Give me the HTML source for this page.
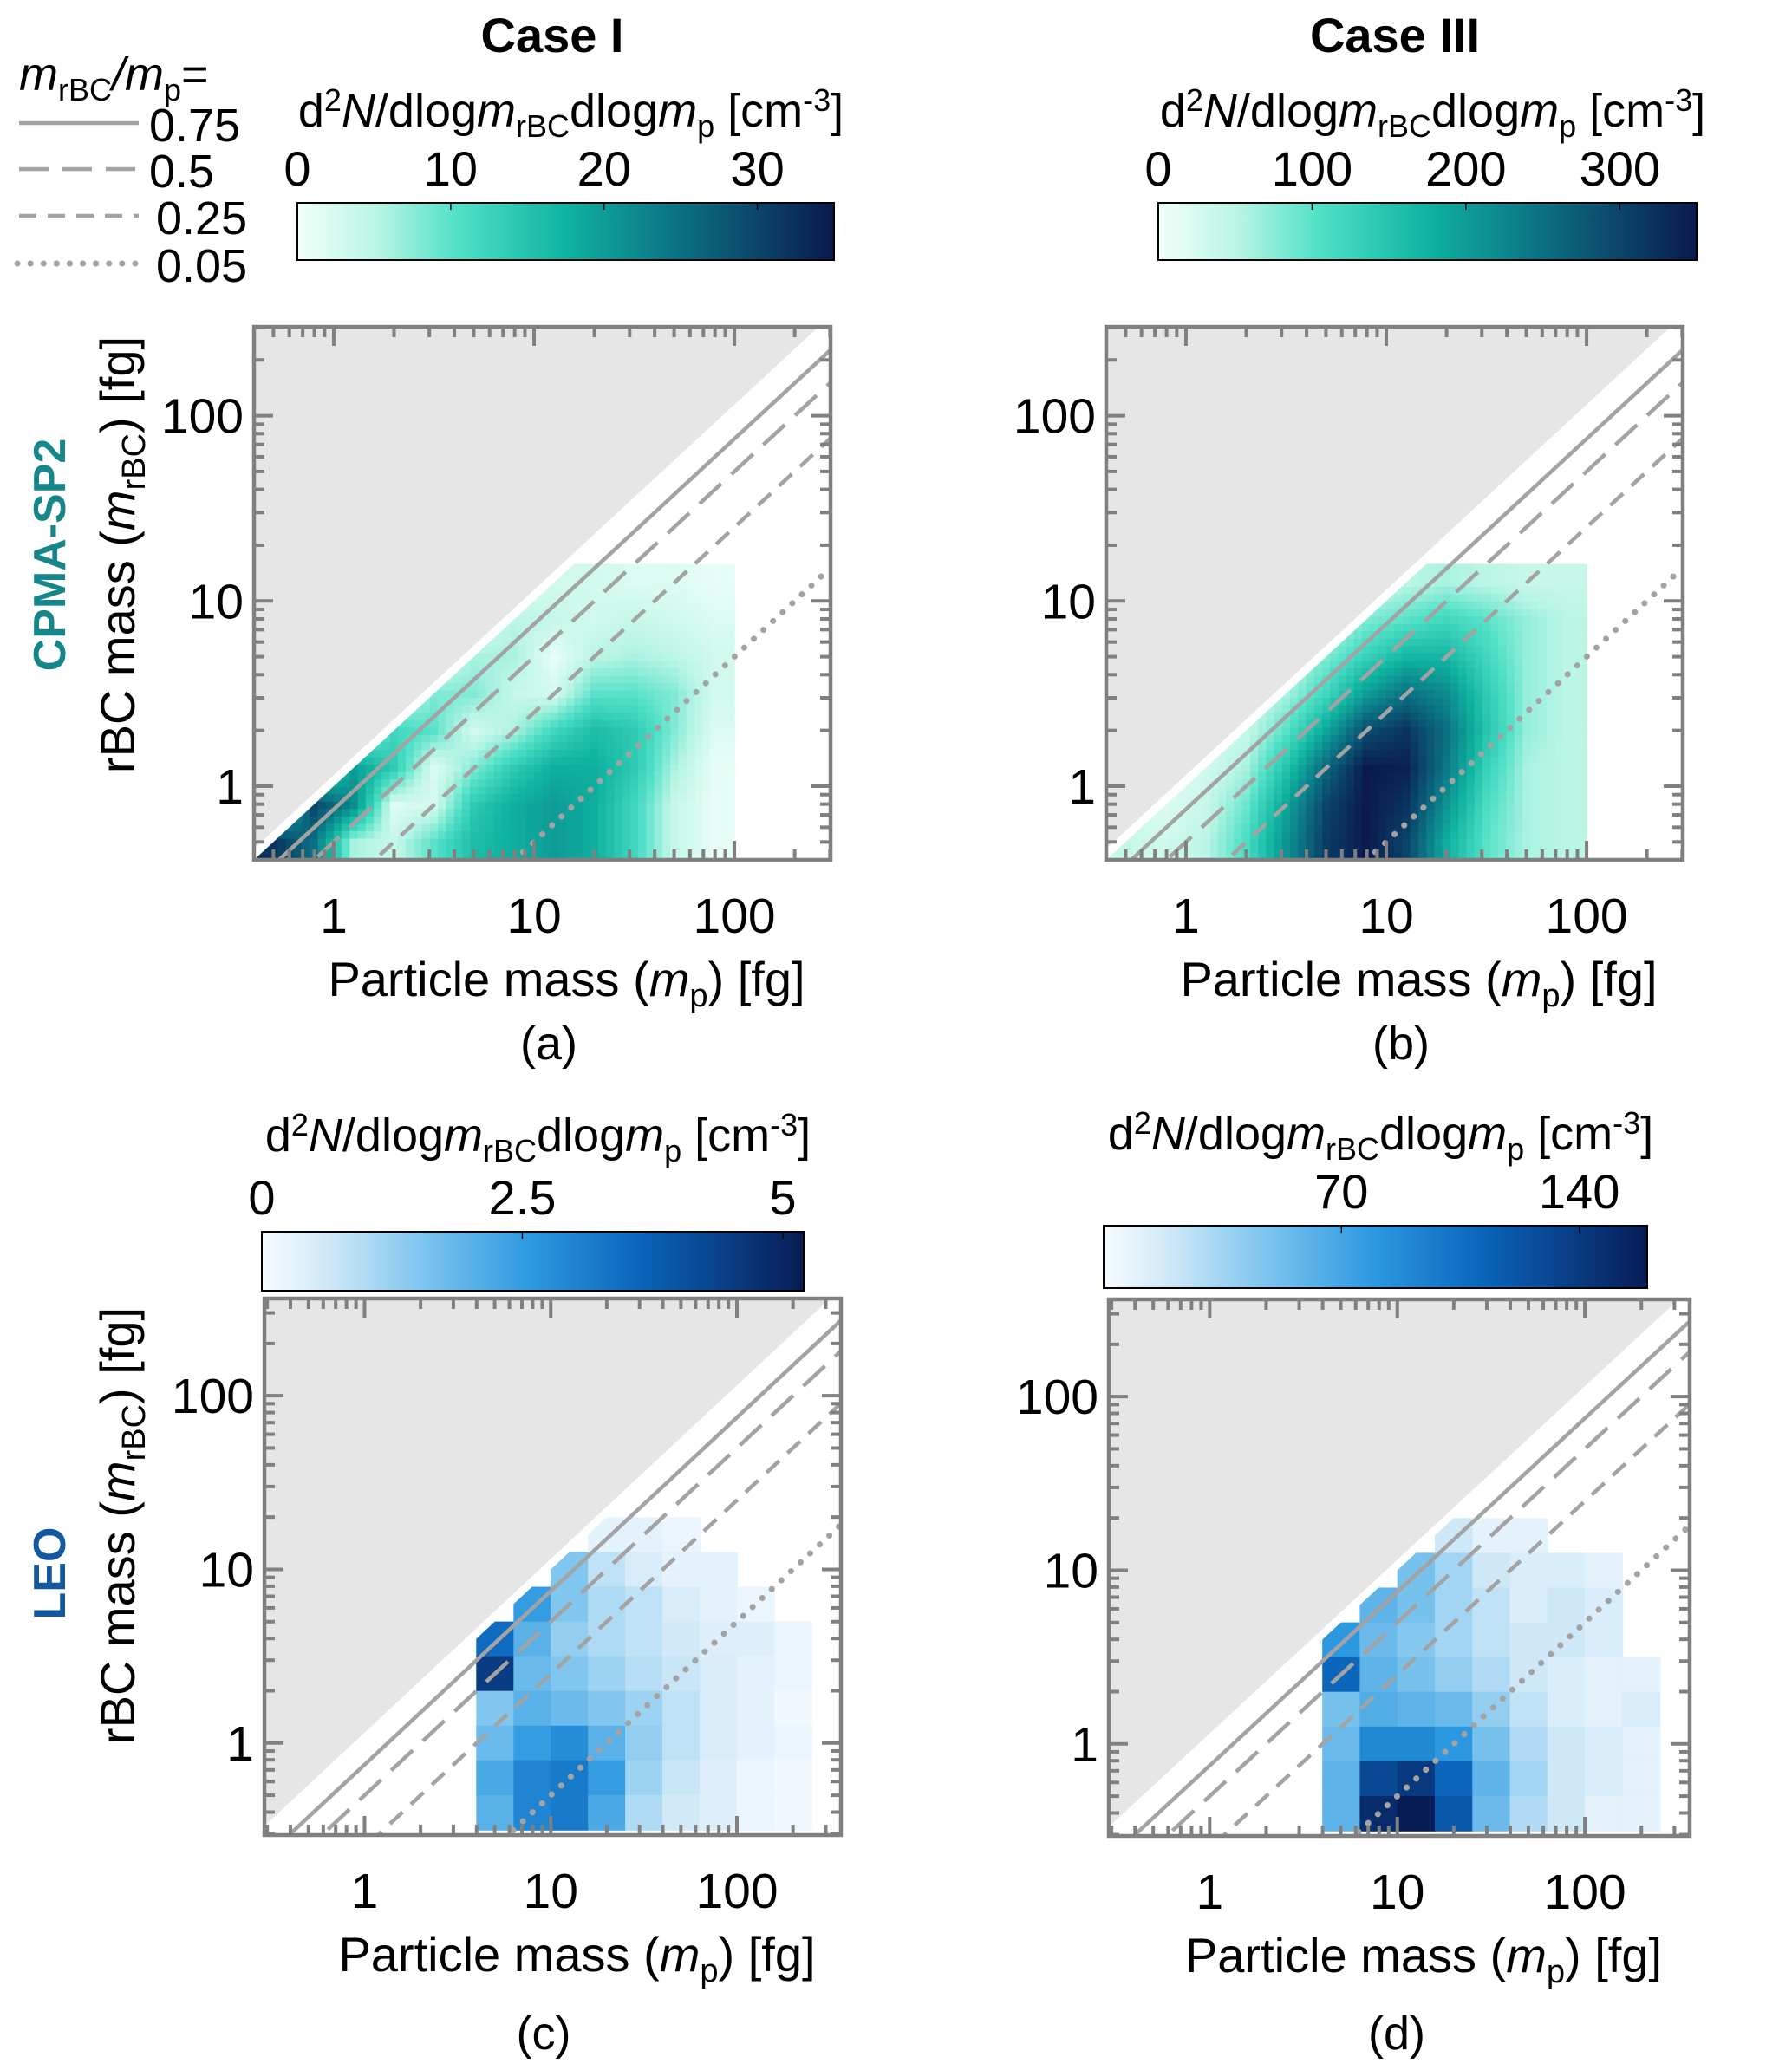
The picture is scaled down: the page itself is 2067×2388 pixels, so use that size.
<!DOCTYPE html>
<html><head><meta charset="utf-8"><style>
html,body{margin:0;padding:0;background:#fff}
svg{display:block}
text{font-family:"Liberation Sans","DejaVu Sans",sans-serif;fill:#000}
</style></head><body>
<svg id="fig" width="2067" height="2388" viewBox="0 0 2067 2388" xmlns="http://www.w3.org/2000/svg">
<defs id="defs"></defs>
<g id="root"></g>
</svg>
<script>
// ---- data ----
const xCentersAB = [-0.3,-0.1,0.1,0.3,0.5,0.7,0.9,1.1,1.3,1.5,1.7,1.9];
const yCentersAB = [1.1,0.9,0.7,0.5,0.3,0.1,-0.1,-0.3];
const N = null;
const valuesA = [
 [N,N,N,N,N,N,N,3,3,2,2,1],
 [N,N,N,N,N,N,5,4,3,4,3,2],
 [N,N,N,N,N,6,6,1,5,6,5,3],
 [N,N,N,N,8,8,4,3,10,10,8,3],
 [N,N,N,12,10,3,6,12,16,14,8,2],
 [N,N,20,14,2,8,14,18,18,14,6,1],
 [N,30,22,2,3,14,18,20,18,12,4,1],
 [32,25,6,4,10,16,18,20,18,12,4,1]
];
const valuesB = [
 [N,N,N,N,N,N,30,50,60,50,40,40],
 [N,N,N,N,N,40,80,100,120,100,70,50],
 [N,N,N,N,40,80,130,170,170,120,70,50],
 [N,N,N,30,60,120,200,250,220,140,70,50],
 [N,N,20,40,100,190,290,320,250,150,70,50],
 [N,10,30,60,150,260,350,340,240,130,60,50],
 [30,20,40,90,190,300,350,320,210,110,60,50],
 [40,30,50,110,210,310,350,300,180,100,60,50]
];
const xCentersCD = [0.7,0.9,1.1,1.3,1.5,1.7,1.9,2.1,2.3];
const yCentersCD = [1.2,1.0,0.8,0.6,0.4,0.2,0.0,-0.2,-0.4];
const valuesC = [
 [N,N,N,0.3,0.3,0.2,N,N,N],
 [N,N,1.5,0.8,0.5,0.3,0.3,N,N],
 [N,2.5,1.5,1,0.8,0.5,0.3,0.2,N],
 [3.5,2,1.3,1,0.8,0.6,0.4,0.4,0.2],
 [4.5,1.8,1.5,1.2,0.9,0.7,0.5,0.3,0.2],
 [1.5,2,1.8,1.5,1.2,0.8,0.5,0.3,0.1],
 [1.8,2.5,2.8,2,1.3,0.8,0.5,0.3,0.2],
 [2.2,3,3.2,2.5,1.2,0.7,0.4,0.2,0.1],
 [2,3,3.2,2.2,1,0.6,0.4,0.2,0.1]
];
const valuesD = [
 [N,N,N,20,10,10,N,N,N],
 [N,N,50,35,20,15,15,10,N],
 [N,60,50,35,25,15,20,15,N],
 [80,55,45,35,25,20,20,15,N],
 [110,60,50,40,30,20,15,10,10],
 [50,65,60,55,40,25,15,10,15],
 [55,90,90,80,50,30,20,15,10],
 [60,130,140,110,60,35,20,15,10],
 [60,150,160,120,55,30,20,10,10]
];
const ratios = [0.75,0.5,0.25,0.05];
const ratioLabels = ["0.75","0.5","0.25","0.05"];
const cbTicksA = [0,10,20,30];
const cbTicksB = [0,100,200,300];
const cbTicksC = [0,2.5,5];
const cbTicksD = [70,140];
const cbMax = {a:35,b:350,c:5.2,d:160};

// ---- styling ----
const tealStops = [[0,'#f2fffb'],[0.15,'#b8f5e4'],[0.3,'#4fe0c6'],[0.5,'#0fb3a0'],[0.72,'#0b6e82'],[1,'#0a1a4e']];
const blueStops = [[0,'#f7fbff'],[0.12,'#d0e9f8'],[0.3,'#7cc4ee'],[0.5,'#2c98e0'],[0.7,'#0a64ba'],[1,'#081c55']];
const dashes = [null,'34 16','20 13','0.1 15'];
const NS='http://www.w3.org/2000/svg';
const root=document.getElementById('root');
const defs=document.getElementById('defs');
function mk(tag,attrs,parent){const e=document.createElementNS(NS,tag);for(const k in attrs)e.setAttribute(k,attrs[k]);(parent||root).appendChild(e);return e;}
function hex(c){return [parseInt(c.slice(1,3),16),parseInt(c.slice(3,5),16),parseInt(c.slice(5,7),16)];}
function cmap(stops,t){t=Math.max(0,Math.min(1,t));for(let i=1;i<stops.length;i++){if(t<=stops[i][0]){const a=stops[i-1],b=stops[i];const f=(t-a[0])/(b[0]-a[0]);const A=hex(a[1]),B=hex(b[1]);return 'rgb('+A.map((v,j)=>Math.round(v+(B[j]-v)*f)).join(',')+')';}}return stops[stops.length-1][1];}

function sample(xc,yc,vals,cw,lx,ly){
  // nearest-cell mask, bilinear value
  const c0=Math.round((lx-xc[0])/cw), r0=Math.round((yc[0]-ly)/cw);
  if(c0<0||c0>=xc.length||r0<0||r0>=yc.length||vals[r0][c0]===null)return null;
  const fc=Math.max(0,Math.min(xc.length-1.001,(lx-xc[0])/cw)), fr=Math.max(0,Math.min(yc.length-1.001,(yc[0]-ly)/cw));
  const ci=Math.floor(fc), ri=Math.floor(fr), tx=fc-ci, ty=fr-ri;
  const g=(r,c)=>{const v=vals[r][c];return v===null?vals[r0][c0]*0.3:v;};
  return g(ri,ci)*(1-tx)*(1-ty)+g(ri,ci+1)*tx*(1-ty)+g(ri+1,ci)*(1-tx)*ty+g(ri+1,ci+1)*tx*ty;
}

function panel(id,P,xc,yc,vals,stops,vmax,cw,smooth){
  const g=mk('g',{});
  
  
  const lx0=Math.log10(P.xr[0]),lx1=Math.log10(P.xr[1]),ly0=Math.log10(P.yr[0]),ly1=Math.log10(P.yr[1]);
  const X=v=>P.x0+(v-lx0)/(lx1-lx0)*(P.x1-P.x0);
  const Y=v=>P.y1-(v-ly0)/(ly1-ly0)*(P.y1-P.y0);
  const cid='clip'+id;
  const cp=mk('clipPath',{id:cid},defs);mk('rect',{x:P.x0,y:P.y0,width:P.x1-P.x0,height:P.y1-P.y0},cp);
  const did='dclip'+id;
  const dp=mk('clipPath',{id:did},defs);
  mk('polygon',{points:`${X(lx0)},${Y(lx0)} ${X(lx1+1)},${Y(lx1+1)} ${X(lx1+1)},${Y(ly0-1)} ${X(lx0)},${Y(ly0-1)}`},dp);
  const inner=mk('g',{'clip-path':'url(#'+cid+')'},g);
  const gr=mk('polygon',{points:`${X(lx0)},${Y(lx0+0.06)} ${X(ly1)},${Y(ly1+0.06)} ${X(lx0)},${Y(ly1+0.06)}`,fill:'#e6e6e6'},inner);
  
  
  const hm=mk('g',{'clip-path':'url(#'+did+')'},inner);
  
  
  if(smooth){
    const st=0.04;
    for(let lx=xc[0]-cw/2;lx<xc[xc.length-1]+cw/2-1e-6;lx+=st)
      for(let ly=yc[yc.length-1]-cw/2;ly<yc[0]+cw/2-1e-6;ly+=st){
        const v=sample(xc,yc,vals,cw,lx+st/2,ly+st/2); if(v===null)continue;
        const xa=X(lx),xb=X(lx+st),ya=Y(ly+st),yb=Y(ly);
        const cell=mk('rect',{x:xa.toFixed(1),y:ya.toFixed(1),width:(xb-xa+0.8).toFixed(1),height:(yb-ya+0.8).toFixed(1),fill:cmap(stops,v/vmax)},hm);
        
        
      }
  } else {
    for(let r=0;r<yc.length;r++)for(let c=0;c<xc.length;c++){
      const v=vals[r][c]; if(v===null)continue;
      const xa=X(xc[c]-cw/2),xb=X(xc[c]+cw/2),ya=Y(yc[r]+cw/2),yb=Y(yc[r]-cw/2);
      const cell=mk('rect',{x:xa.toFixed(1),y:ya.toFixed(1),width:(xb-xa+0.8).toFixed(1),height:(yb-ya+0.8).toFixed(1),fill:cmap(stops,v/vmax)},hm);
      
      
    }
  }
  ratios.forEach((rt,i)=>{
    const lr=Math.log10(rt);
    const a={stroke:'#a3a3a3','stroke-width':i==3?7:4.5,fill:'none',x1:X(lx0),y1:Y(lx0+lr),x2:X(lx1),y2:Y(lx1+lr)};
    if(dashes[i])a['stroke-dasharray']=dashes[i];
    if(i==3)a['stroke-linecap']='round';
    const ln=mk('line',a,inner);
    
    
  });
  const tk=mk('g',{stroke:'#808080','stroke-width':4},g);
  
  
  for(let d=-1;d<=3;d++)for(let m=1;m<10;m++){
    const l=d+Math.log10(m);const L=m==1?22:12;
    if(l>lx0&&l<lx1){const x=X(l);mk('line',{x1:x,y1:P.y1,x2:x,y2:P.y1-L},tk);mk('line',{x1:x,y1:P.y0,x2:x,y2:P.y0+L},tk);}
    if(l>ly0&&l<ly1){const y=Y(l);mk('line',{x1:P.x0,y1:y,x2:P.x0+L,y2:y},tk);mk('line',{x1:P.x1,y1:y,x2:P.x1-L,y2:y},tk);}
  }
  const fr=mk('rect',{x:P.x0,y:P.y0,width:P.x1-P.x0,height:P.y1-P.y0,fill:'none',stroke:'#808080','stroke-width':4.5},g);
  
  
  [1,10,100].forEach(v=>{
    const l=Math.log10(v);
    const t=mk('text',{x:X(l),y:P.y1+84,'font-size':57,'text-anchor':'middle'},g);t.textContent=v;
    
    
    const u=mk('text',{x:P.x0-12,y:Y(l)+20,'font-size':57,'text-anchor':'end'},g);u.textContent=v;
    
    
  });
  const xt=mk('text',{x:(P.x0+P.x1)/2+28,y:P.y1+157,'font-size':56,'text-anchor':'middle'},g);
  xt.innerHTML='Particle mass (<tspan font-style="italic">m</tspan><tspan font-size="38" dy="12">p</tspan><tspan dy="-12">) [fg]</tspan>';
  
  
}

function colorbar(id,x0,x1,y0,y1,stops,vmax,ticks,labelY){
  const gid='grad'+id;
  const lg=mk('linearGradient',{id:gid,x1:0,x2:1,y1:0,y2:0},defs);
  for(let i=0;i<=20;i++)mk('stop',{offset:i/20,'stop-color':cmap(stops,i/20)},lg);
  const g=mk('g',{});
  
  
  mk('rect',{x:x0,y:y0,width:x1-x0,height:y1-y0,fill:'url(#'+gid+')',stroke:'#000','stroke-width':2},g);
  ticks.forEach(v=>{
    const x=x0+v/vmax*(x1-x0);
    mk('line',{x1:x,y1:y0,x2:x,y2:y0+8,stroke:'#000','stroke-width':1.5},g);
    const t=mk('text',{x:x,y:y0-20,'font-size':56,'text-anchor':'middle'},g);t.textContent=v;
    
    
  });
  const t=mk('text',{x:(x0+x1)/2+6,y:labelY,'font-size':54,'text-anchor':'middle'},g);
  t.innerHTML='d<tspan font-size="36" dy="-18">2</tspan><tspan dy="18" font-style="italic">N</tspan>/dlog<tspan font-style="italic">m</tspan><tspan font-size="36" dy="12">rBC</tspan><tspan dy="-12">dlog</tspan><tspan font-style="italic">m</tspan><tspan font-size="36" dy="12">p</tspan><tspan dy="-12"> [cm</tspan><tspan font-size="36" dy="-18">-3</tspan><tspan dy="18">]</tspan>';
  
  
}

const PA={x0:293,x1:958,y0:377,y1:992,xr:[0.4,302],yr:[0.4,302]};
const PB={x0:1276,x1:1941,y0:377,y1:992,xr:[0.4,302],yr:[0.4,302]};
const PC={x0:305,x1:970,y0:1498,y1:2117,xr:[0.29,362],yr:[0.295,363]};
const PD={x0:1279,x1:1949,y0:1499,y1:2118,xr:[0.29,362],yr:[0.295,363]};
panel('a',PA,xCentersAB,yCentersAB,valuesA,tealStops,cbMax.a,0.2,true);
panel('b',PB,xCentersAB,yCentersAB,valuesB,tealStops,cbMax.b,0.2,true);
panel('c',PC,xCentersCD,yCentersCD,valuesC,blueStops,cbMax.c,0.2,false);
panel('d',PD,xCentersCD,yCentersCD,valuesD,blueStops,cbMax.d,0.2,false);
colorbar('a',343,962,234,300,tealStops,cbMax.a,cbTicksA,146);
colorbar('b',1336,1957,234,300,tealStops,cbMax.b,cbTicksB,146);
colorbar('c',302,927,1421,1489,blueStops,cbMax.c,cbTicksC,1328);
colorbar('d',1273,1900,1414,1486,blueStops,cbMax.d,cbTicksD,1326);

const lgG=mk('g',{});


const lt=mk('text',{x:22,y:104,'font-size':54},lgG);
lt.innerHTML='<tspan font-style="italic">m</tspan><tspan font-size="36" dy="12">rBC</tspan><tspan dy="-12" font-style="italic">/m</tspan><tspan font-size="36" dy="12">p</tspan><tspan dy="-12">=</tspan>';


const rowsY=[157,210,264,319];
ratios.forEach((r,i)=>{
  const a={x1:22,x2:160,y1:rowsY[i]-15,y2:rowsY[i]-15,stroke:'#a3a3a3','stroke-width':i==3?7:4.5};
  if(dashes[i])a['stroke-dasharray']=dashes[i];
  if(i==3){a['stroke-linecap']='round';a.x1=20;}
  const l=mk('line',a,lgG);
  
  
  const t=mk('text',{x:i>1?180:172,y:rowsY[i]+6,'font-size':54},lgG);t.textContent=ratioLabels[i];
  
  
});

function txt(s,attrs,name){const t=mk('text',attrs);t.innerHTML=s;return t;}
txt('Case I',{x:637,y:60,'font-size':56,'font-weight':'bold','text-anchor':'middle'},'column-title-case-1');
txt('Case III',{x:1609,y:60,'font-size':56,'font-weight':'bold','text-anchor':'middle'},'column-title-case-3');
const yl='rBC mass (<tspan font-style="italic">m</tspan><tspan font-size="38" dy="12">rBC</tspan><tspan dy="-12">) [fg]</tspan>';
txt(yl,{x:0,y:0,'font-size':56,'text-anchor':'middle',transform:'translate(155,640) rotate(-90)'},'y-axis-title-a');
txt(yl,{x:0,y:0,'font-size':56,'text-anchor':'middle',transform:'translate(155,1760) rotate(-90)'},'y-axis-title-c');
const r1=txt('CPMA-SP2',{x:0,y:0,'font-size':52,'font-weight':'bold','text-anchor':'middle',transform:'translate(75,640) rotate(-90)'},'row-label-cpma-sp2');r1.style.fill='#17868a';
const r2=txt('LEO',{x:0,y:0,'font-size':52,'font-weight':'bold','text-anchor':'middle',transform:'translate(75,1815) rotate(-90)'},'row-label-leo');r2.style.fill='#14589f';
txt('(a)',{x:633,y:1222,'font-size':54,'text-anchor':'middle'},'panel-label-a');
txt('(b)',{x:1616,y:1222,'font-size':54,'text-anchor':'middle'},'panel-label-b');
txt('(c)',{x:627,y:2364,'font-size':54,'text-anchor':'middle'},'panel-label-c');
txt('(d)',{x:1611,y:2364,'font-size':54,'text-anchor':'middle'},'panel-label-d');
</script>
</body></html>
